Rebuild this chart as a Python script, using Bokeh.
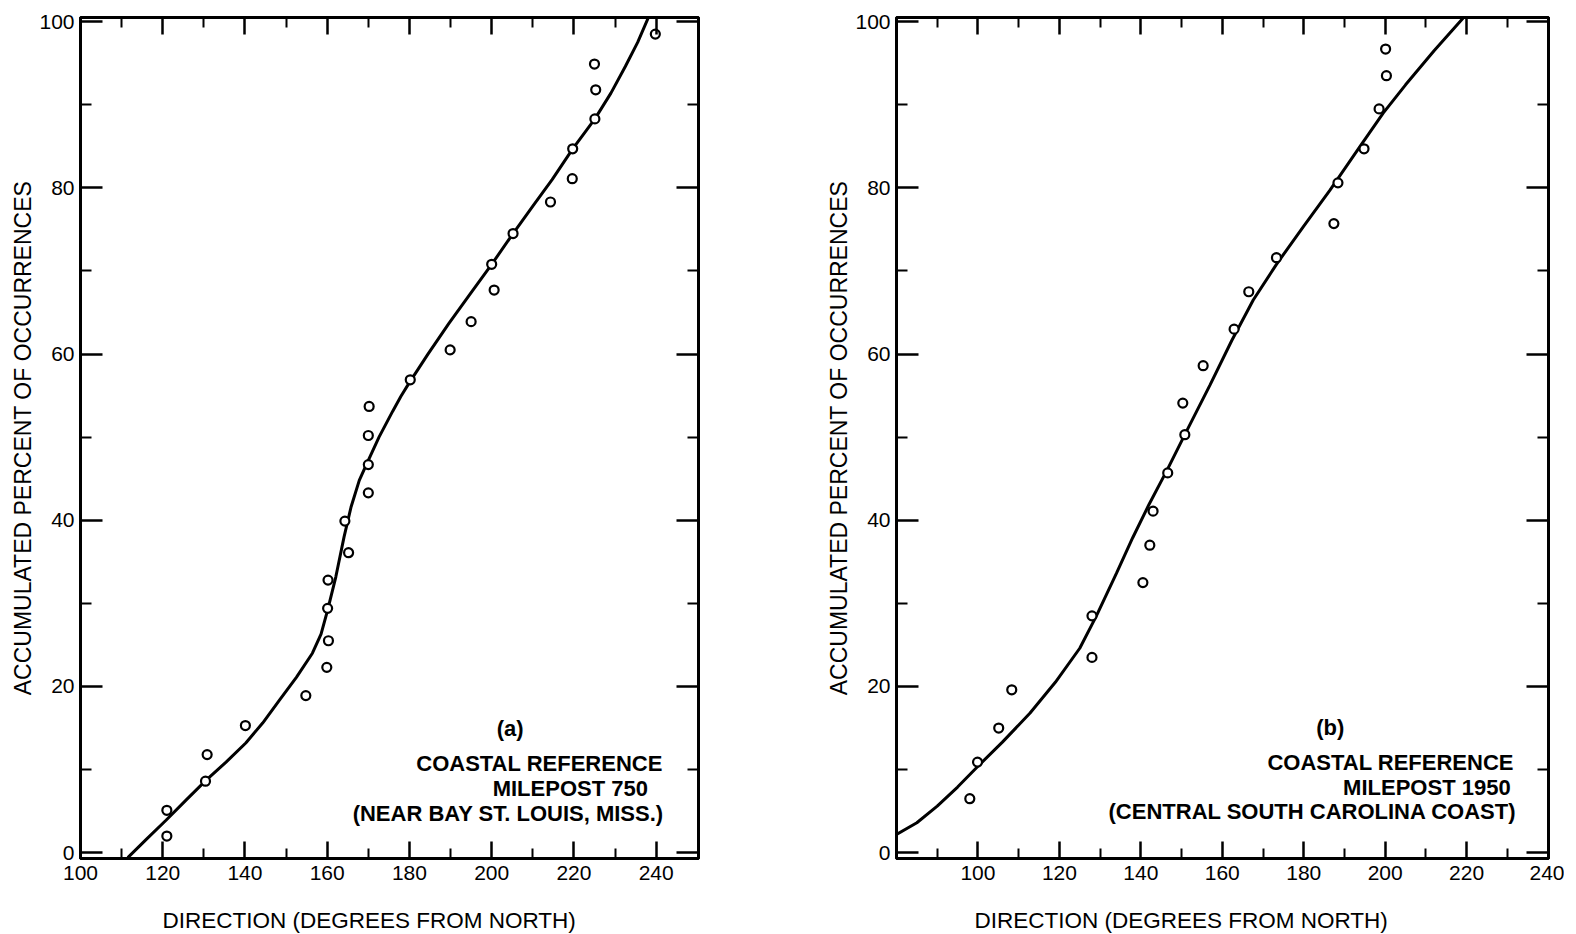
from bokeh.plotting import figure
from bokeh.models import FixedTicker, LinearAxis, Label, Range1d, CustomJSTickFormatter, Title
from bokeh.layouts import row
from bokeh.embed import file_html
from bokeh.resources import INLINE

FONT = "Liberation Sans"

# ---------------- data: panel (a) ----------------
curve_a_x = [111.5, 116.0, 120.8, 125.6, 130.5, 135.4, 140.2, 144.3, 148.3, 152.5, 156.4, 158.5,
             160.1, 162.1, 164.1, 165.8, 167.8, 169.8, 172.6, 175.9, 177.9, 179.9, 184.5,
             189.6, 195.0, 200.0, 205.2, 210.0, 214.7, 219.7, 225.1, 229.0, 232.5, 235.5, 238.2]
curve_a_y = [-0.6, 1.6, 3.9, 6.3, 8.7, 10.9, 13.2, 15.6, 18.3, 21.1, 24.0, 26.3,
             29.2, 33.2, 38.0, 41.6, 44.8, 47.0, 50.0, 53.1, 54.9, 56.5, 60.0,
             63.7, 67.4, 70.8, 74.5, 77.8, 81.0, 84.7, 88.3, 91.4, 94.6, 97.5, 100.6]
pts_a_x = [121.0, 121.0, 130.4, 130.8, 140.1, 154.8, 159.9, 160.3, 160.1, 160.2, 164.3, 165.2,
           170.0, 170.0, 170.0, 170.2, 180.2, 189.9, 195.0, 200.6, 200.0, 205.2, 214.3, 219.6,
           219.7, 225.1, 225.3, 225.0, 239.8]
pts_a_y = [5.1, 2.0, 8.6, 11.8, 15.3, 18.9, 22.3, 25.5, 29.4, 32.8, 39.9, 36.1,
           43.3, 46.7, 50.2, 53.7, 56.9, 60.5, 63.9, 67.7, 70.8, 74.5, 78.3, 81.1,
           84.7, 88.3, 91.8, 94.9, 98.5]
text_a = ["(a)", "COASTAL REFERENCE", "MILEPOST 750", "(NEAR BAY ST. LOUIS, MISS.)"]

# ---------------- data: panel (b) ----------------
curve_b_x = [80.0, 85.0, 90.0, 95.0, 100.0, 106.0, 112.8, 119.0, 125.0, 129.0, 134.0, 138.0,
             142.0, 146.5, 151.2, 157.0, 162.3, 167.6, 173.3, 180.0, 186.4, 193.7, 199.5,
             205.0, 212.0, 219.1]
curve_b_y = [2.2, 3.6, 5.6, 7.9, 10.4, 13.3, 16.8, 20.5, 24.6, 28.4, 33.6, 37.9,
             41.9, 46.1, 50.7, 56.3, 61.6, 66.5, 70.8, 75.4, 79.7, 84.9, 89.0,
             92.4, 96.5, 100.4]
pts_b_x = [98.0, 99.9, 105.1, 108.3, 128.0, 128.0, 140.5, 142.2, 143.0, 146.6, 150.8, 150.3,
           155.3, 162.9, 166.5, 173.3, 187.4, 188.4, 194.8, 198.5, 200.3, 200.1]
pts_b_y = [6.5, 10.9, 15.0, 19.6, 23.5, 28.5, 32.5, 37.0, 41.1, 45.7, 50.3, 54.1,
           58.6, 63.0, 67.5, 71.6, 75.7, 80.6, 84.7, 89.5, 93.5, 96.7]
text_b = ["(b)", "COASTAL REFERENCE", "MILEPOST 1950", "(CENTRAL SOUTH CAROLINA COAST)"]

y_major = [0, 20, 40, 60, 80, 100]
y_minor = [10, 30, 50, 70, 90]
x_major = [100, 120, 140, 160, 180, 200, 220, 240]
x_minor_a = [110, 130, 150, 170, 190, 210, 230]
x_minor_b = [90, 110, 130, 150, 170, 190, 210, 230]

X_TITLE = "DIRECTION (DEGREES FROM NORTH)"
Y_TITLE = "ACCUMULATED PERCENT OF OCCURRENCES"


def style_axis(ax, major_in, minor_in, show_labels=True):
    ax.major_tick_in = major_in
    ax.major_tick_out = 0
    ax.minor_tick_in = minor_in
    ax.minor_tick_out = 0
    ax.axis_line_width = 3
    ax.major_tick_line_width = 2.5
    ax.minor_tick_line_width = 2
    ax.major_label_text_font = FONT
    ax.major_label_text_font_size = "21px"
    ax.major_label_text_color = "black"
    ax.axis_label_text_font = FONT
    ax.axis_label_text_font_size = "23px"
    ax.axis_label_text_font_style = "normal"
    ax.axis_label_text_color = "black"
    if not show_labels:
        ax.formatter = CustomJSTickFormatter(code="return ''")
        ax.major_label_text_font_size = "0px"


def make_panel(xr, fw, xmin_ticks, cx, cy, px, py, texts, text_pos, title_off, bl, br):
    p = figure(frame_width=fw, frame_height=841, output_backend="svg", toolbar_location=None,
               x_range=Range1d(*xr), y_range=Range1d(-0.7, 100.5),
               min_border_top=17, min_border_bottom=0, min_border_left=bl, min_border_right=br,
               x_axis_location=None, y_axis_location=None)
    p.grid.visible = False
    p.outline_line_color = "black"
    p.outline_line_width = 3

    xt = FixedTicker(ticks=x_major, minor_ticks=xmin_ticks)
    yt = FixedTicker(ticks=y_major, minor_ticks=y_minor)

    bottom = LinearAxis(ticker=xt, major_label_standoff=7)
    style_axis(bottom, 17, 10)
    p.add_layout(bottom, "below")
    top = LinearAxis(ticker=xt)
    style_axis(top, 17, 10, show_labels=False)
    p.add_layout(top, "above")
    left = LinearAxis(ticker=yt, axis_label=Y_TITLE, major_label_standoff=6, axis_label_standoff=0)
    style_axis(left, 22, 11)
    p.add_layout(left, "left")
    right = LinearAxis(ticker=yt)
    style_axis(right, 22, 11, show_labels=False)
    p.add_layout(right, "right")

    xtitle = Title(text=X_TITLE, align="left", offset=title_off, standoff=46,
                   text_font=FONT, text_font_size="22.5px", text_font_style="normal",
                   text_color="black")
    p.add_layout(xtitle, "below")

    p.line(cx, cy, line_color="black", line_width=3)
    p.scatter(px, py, marker="circle", size=9, fill_color="white", line_color="black", line_width=2.2)

    for t, (tx, ty, align) in zip(texts, text_pos):
        p.add_layout(Label(x=tx, y=ty, text=t, text_align=align, text_baseline="middle",
                           text_font=FONT, text_font_size="22px", text_font_style="bold",
                           text_color="black"))
    return p


pos_a = [(204.5, 14.9, "center"), (241.6, 10.7, "right"), (238.0, 7.7, "right"), (241.8, 4.7, "right")]
pos_b = [(186.5, 15.1, "center"), (231.6, 10.9, "right"), (230.8, 7.9, "right"), (232.3, 4.9, "right")]

pa = make_panel((100, 250.3), 618, x_minor_a, curve_a_x, curve_a_y, pts_a_x, pts_a_y, text_a, pos_a, 82, 80, 40)
pb = make_panel((80, 240.1), 652, x_minor_b, curve_b_x, curve_b_y, pts_b_x, pts_b_y, text_b, pos_b, 78, 158, 16)

layout = row(pa, pb)
open("out.html", "w").write(file_html(layout, INLINE))
